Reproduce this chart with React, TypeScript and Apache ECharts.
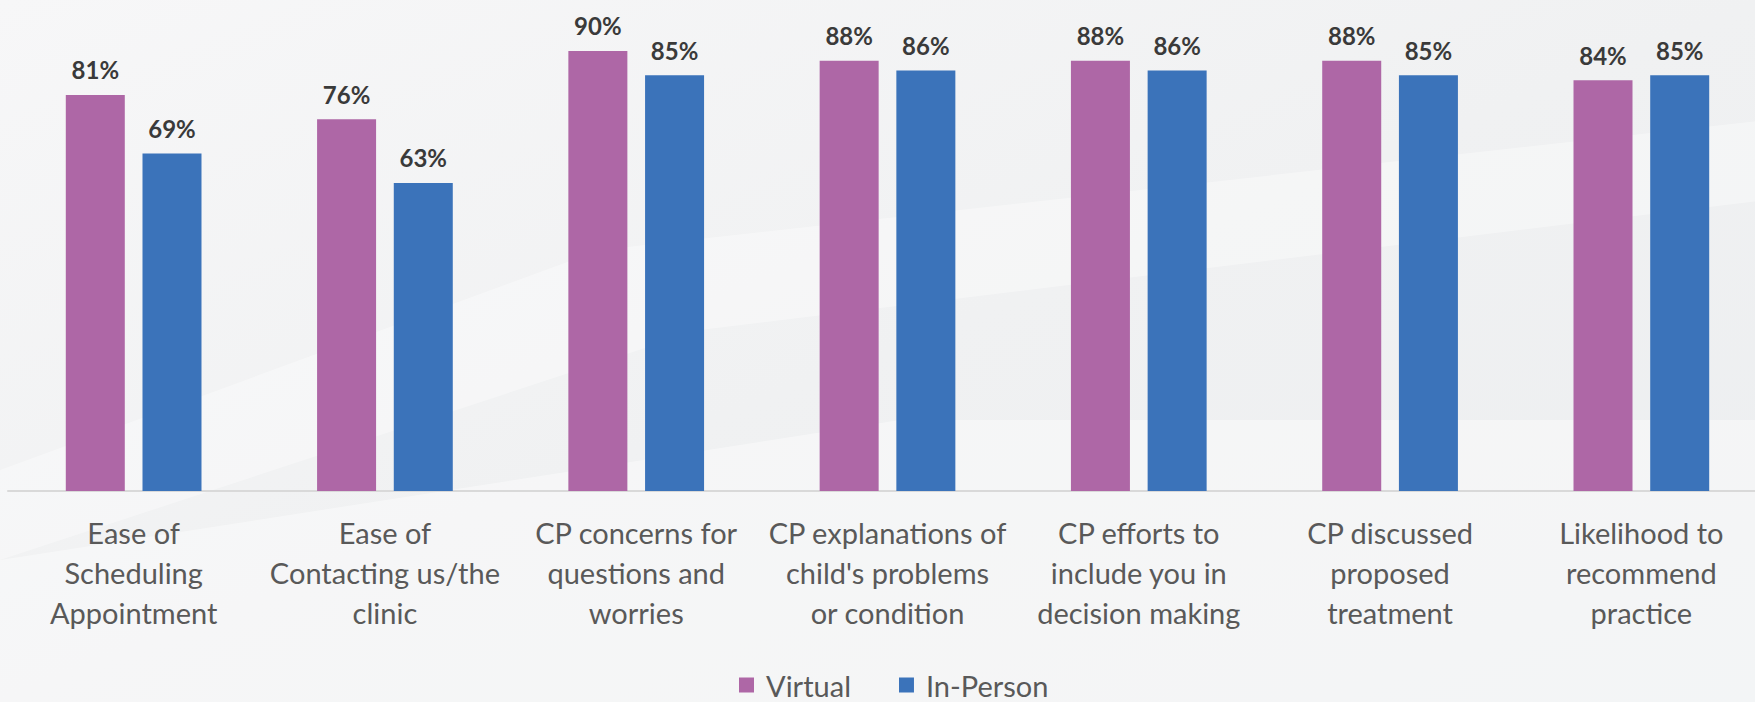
import React, { useEffect, useRef } from "react";
import * as echarts from "echarts";

const categories = [
  "Ease of\nScheduling\nAppointment",
  "Ease of\nContacting us/the\nclinic",
  "CP concerns for\nquestions and\nworries",
  "CP explanations of\nchild's problems\nor condition",
  "CP efforts to\ninclude you in\ndecision making",
  "CP discussed\nproposed\ntreatment",
  "Likelihood to\nrecommend\npractice",
];
const virtualValues = [81, 76, 90, 88, 88, 88, 84];
const inPersonValues = [69, 63, 85, 86, 86, 85, 85];
const seriesNames = ["Virtual", "In-Person"];

const FONT = "Lato, 'Open Sans', sans-serif";

export default function App() {
  const ref = useRef<HTMLDivElement>(null);
  useEffect(() => {
    if (!ref.current) return;
    document.body.style.overflow = "hidden";
    const chart = echarts.init(ref.current, null, { renderer: "svg" });
    const label = {
      show: true,
      position: "top",
      distance: 13,
      formatter: "{c}%",
      color: "#3a3a3a",
      fontWeight: "bold",
      fontSize: 24,
      fontFamily: FONT,
    };
    chart.setOption({
      animation: false,
      backgroundColor: {
        type: "linear",
        x: 0,
        y: 0,
        x2: 1,
        y2: 1,
        colorStops: [
          { offset: 0, color: "#f7f7f8" },
          { offset: 0.5, color: "#f0f1f2" },
          { offset: 1, color: "#eceef0" },
        ],
      },
      graphic: [
        {
          type: "polygon",
          silent: true,
          z: -10,
          shape: { points: [[0, 470], [600, 250], [1767, 120], [1767, 200], [700, 330], [0, 560]] },
          style: { fill: "rgba(255,255,255,0.35)" },
        },
        {
          type: "polygon",
          silent: true,
          z: -10,
          shape: { points: [[0, 560], [900, 420], [1767, 420], [1767, 702], [0, 702]] },
          style: { fill: "rgba(255,255,255,0.4)" },
        },
      ],
      grid: { left: 8, right: 0, top: 2, bottom: 211, containLabel: false },
      legend: {
        data: seriesNames,
        top: 670,
        left: 739,
        padding: 0,
        itemWidth: 15,
        itemHeight: 15,
        itemGap: 48,
        icon: "rect",
        textStyle: {
          fontSize: 29,
          lineHeight: 30,
          color: "#595959",
          fontFamily: FONT,
          padding: [0, 0, 0, 7],
        },
      },
      xAxis: {
        type: "category",
        data: categories,
        axisLine: { lineStyle: { color: "#d9d9d9", width: 2 } },
        axisTick: { show: false },
        axisLabel: {
          interval: 0,
          margin: 21,
          fontSize: 29,
          lineHeight: 40,
          color: "#595959",
          fontFamily: FONT,
        },
      },
      yAxis: {
        type: "value",
        min: 0,
        max: 100,
        show: false,
        splitLine: { show: false },
      },
      series: [
        {
          name: seriesNames[0],
          type: "bar",
          data: virtualValues,
          barWidth: 59,
          barGap: "30%",
          itemStyle: { color: "#AE67A6" },
          label,
        },
        {
          name: seriesNames[1],
          type: "bar",
          data: inPersonValues,
          barWidth: 59,
          itemStyle: { color: "#3B73BA" },
          label,
        },
      ],
    });
    return () => chart.dispose();
  }, []);
  return (
    <div
      ref={ref}
      style={{ position: "fixed", left: 0, top: 0, width: 1767, height: 702 }}
    />
  );
}
